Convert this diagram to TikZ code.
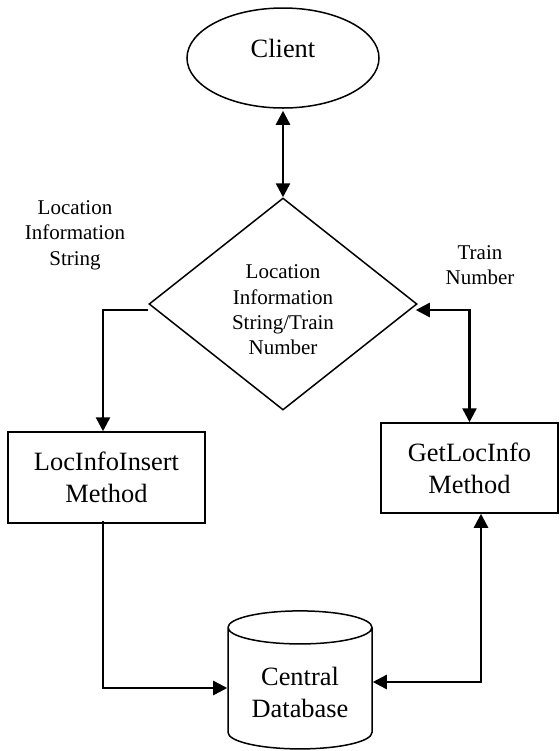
\documentclass[tikz,border=0pt]{standalone}
\usepackage{fontspec}
\setmainfont{Liberation Serif}
\usetikzlibrary{shapes.geometric,arrows.meta}
\newcommand{\bigtxt}{\fontsize{13.2}{16}\selectfont}
\newcommand{\smalltxt}{\fontsize{10.5}{12.7}\selectfont}
\tikzset{
  flow/.style={line width=1.25pt,-{Triangle[length=7pt,width=7pt]}},
  twoway/.style={line width=1.25pt,{Triangle[length=7pt,width=7pt]}-{Triangle[length=7pt,width=7pt]}},
  methodbox/.style={draw,line width=0.75pt,rectangle,align=center,font=\bigtxt},
  lbl/.style={align=center,font=\smalltxt}
}
\begin{document}
\begin{tikzpicture}[x=0.5pt,y=-0.5pt]
      \useasboundingbox (0,0) rectangle (559,751);
          %client and choice
          \node[draw,line width=0.75pt,ellipse,minimum width=96pt,minimum height=50pt,inner sep=0pt,font=\bigtxt] (client) at (283,58) {\raisebox{0.5pt}[0pt][0pt]{Client}};
          \node[draw,line width=0.75pt,diamond,minimum width=134pt,minimum height=106pt,inner sep=0pt] (choice) at (283,304) {};
          \node[lbl] (choiceTxt) at ([yshift=-3pt]choice.center) {Location\\Information\\String/Train\\Number};
          %methods
          \node[methodbox,minimum width=98.5pt,minimum height=45.5pt] (insert) at (106.5,477.5) {LocInfoInsert\\Method};
          \node[methodbox,minimum width=88.5pt,minimum height=45pt] (getloc) at (469.5,468) {GetLocInfo\\Method};
          %database
          \node[draw,line width=0.75pt,cylinder,shape border rotate=90,aspect=0.3,minimum width=72pt,minimum height=69pt,align=center,font=\bigtxt] (db) at (300,692) {Central\\Database};
          %labels
          \node[lbl] (lisLbl) at (75,235) {Location\\Information\\String};
          \node[lbl] (tnLbl) at (480,265) {Train\\Number};
          %connectors
          \draw[twoway] ([yshift=-1pt]client.south) -- (choice.north);
          \draw[flow] ([yshift=-3pt]choice.west) -| ([xshift=-1.75pt]insert.north);
          \draw[twoway] ([yshift=-3pt,xshift=-1pt]choice.east) -| (getloc.north);
          \draw[flow] ([xshift=-1.75pt,yshift=1.5pt]insert.south) |- ([yshift=2pt]db.west);
          \draw[twoway] ([yshift=5pt]db.east) -| ([xshift=5.75pt]getloc.south);
    \end{tikzpicture}
\end{document}
